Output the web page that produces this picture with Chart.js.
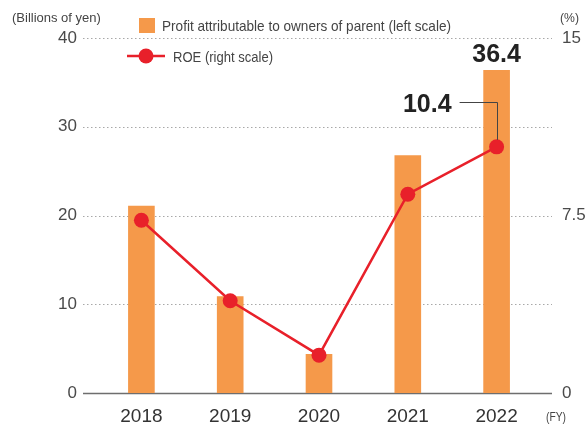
<!DOCTYPE html>
<html>
<head>
<meta charset="utf-8">
<script src="https://cdn.jsdelivr.net/npm/chart.js@4"></script>
<style>
    body { margin: 0; background: #ffffff; }
    #caixa { width: 587px; height: 425px; }
</style>
</head>
<body>
<div id="caixa"><canvas id="chart_lucro" width="587" height="425"></canvas></div>
<script>
// DADOS
var anos = ['2018', '2019', '2020', '2021', '2022'];
var lucro = [21.1, 10.9, 4.4, 26.8, 36.4];
var roe = [7.3, 3.9, 1.6, 8.4, 10.4];
var ticks_esquerda = [0, 10, 20, 30, 40];
var ticks_direita = [0, 7.5, 15];

var cor_barra = '#F5994A';
var cor_roe = '#E8202A';
var fonte = "'Liberation Sans', Arial, sans-serif";

// grade pontilhada e linha de base, um pouco além da área do gráfico
var gradePlugin = {
    id: 'grade',
    beforeDatasetsDraw: function (chart) {
        var ctx = chart.ctx;
        var y = chart.scales.y;
        var esq = chart.chartArea.left - 14;
        var dir = chart.chartArea.right + 11;
        ctx.save();
        ticks_esquerda.forEach(function (v) {
            var py = Math.round(y.getPixelForValue(v)) + 0.5;
            ctx.beginPath();
            if (v == 0) {
                ctx.setLineDash([]);
                ctx.strokeStyle = '#6e6e6e';
                ctx.lineWidth = 1.5;
            } else {
                ctx.setLineDash([1.5, 2.5]);
                ctx.strokeStyle = '#a8a8a8';
                ctx.lineWidth = 1;
            }
            ctx.moveTo(esq, py);
            ctx.lineTo(dir, py);
            ctx.stroke();
        });
        ctx.restore();
    }
};

// legenda, unidades e rótulos de valor
var textosPlugin = {
    id: 'textos',
    afterDraw: function (chart) {
        var ctx = chart.ctx;
        ctx.save();

        // legenda
        ctx.fillStyle = cor_barra;
        ctx.fillRect(139, 18, 16, 15);
        ctx.fillStyle = '#444444';
        ctx.font = '15px ' + fonte;
        ctx.textAlign = 'left';
        ctx.textBaseline = 'middle';
        ctx.fillText('Profit attributable to owners of parent (left scale)', 162, 27, 289);

        ctx.strokeStyle = cor_roe;
        ctx.lineWidth = 2.5;
        ctx.beginPath();
        ctx.moveTo(127, 56);
        ctx.lineTo(165, 56);
        ctx.stroke();
        ctx.fillStyle = cor_roe;
        ctx.beginPath();
        ctx.arc(146, 56, 7.5, 0, Math.PI * 2);
        ctx.fill();
        ctx.fillStyle = '#444444';
        ctx.fillText('ROE (right scale)', 173, 58, 100);

        // unidades
        ctx.font = '13px ' + fonte;
        ctx.fillText('(Billions of yen)', 12, 18, 100);
        ctx.fillText('(%)', 560, 18, 19);
        ctx.font = '12px ' + fonte;
        ctx.fillText('(FY)', 546, 418, 20);

        // rótulos de valor do último ano
        var ultimo = anos.length - 1;
        var barra = chart.getDatasetMeta(0).data[ultimo];
        var ponto = chart.getDatasetMeta(1).data[ultimo];
        ctx.fillStyle = '#222222';
        ctx.font = 'bold 25px ' + fonte;
        ctx.textAlign = 'center';
        ctx.textBaseline = 'alphabetic';
        ctx.fillText(lucro[ultimo].toFixed(1), barra.x, barra.y - 8);

        ctx.textAlign = 'right';
        ctx.fillText(roe[ultimo].toFixed(1), ponto.x - 45, ponto.y - 35);

        ctx.strokeStyle = '#444444';
        ctx.lineWidth = 1;
        ctx.beginPath();
        ctx.moveTo(ponto.x - 37, Math.round(ponto.y - 45) + 0.5);
        ctx.lineTo(Math.round(ponto.x) + 0.5, Math.round(ponto.y - 45) + 0.5);
        ctx.lineTo(Math.round(ponto.x) + 0.5, ponto.y - 7);
        ctx.stroke();

        ctx.restore();
    }
};

function criarGrafico() {
    const ctxLucro = document.getElementById('chart_lucro');

    new Chart(ctxLucro, {
        type: 'bar',
        data: {
            labels: anos,
            datasets: [{
                type: 'bar',
                label: 'Profit attributable to owners of parent (left scale)',
                data: lucro,
                yAxisID: 'y',
                backgroundColor: cor_barra,
                borderWidth: 0,
                barPercentage: 0.3,
                categoryPercentage: 1,
                order: 2
            }, {
                type: 'line',
                label: 'ROE (right scale)',
                data: roe,
                yAxisID: 'y1',
                borderColor: cor_roe,
                backgroundColor: cor_roe,
                borderWidth: 2.5,
                pointRadius: 7.5,
                pointBorderWidth: 0,
                pointBackgroundColor: cor_roe,
                tension: 0,
                order: 1
            }]
        },
        options: {
            responsive: false,
            animation: false,
            layout: {
                padding: { top: 38, bottom: 0, left: 0, right: 0 }
            },
            scales: {
                x: {
                    offset: true,
                    grid: { display: false, drawTicks: false },
                    border: { display: false },
                    ticks: {
                        color: '#333333',
                        padding: 12,
                        font: { family: fonte, size: 19 }
                    },
                    afterFit: function (s) { s.height = 32; }
                },
                y: {
                    position: 'left',
                    min: 0,
                    max: 40,
                    grid: { display: false, drawTicks: false },
                    border: { display: false },
                    afterBuildTicks: function (s) {
                        s.ticks = ticks_esquerda.map(function (v) { return { value: v }; });
                    },
                    ticks: {
                        color: '#4a4a4a',
                        padding: 20,
                        font: { family: fonte, size: 17 }
                    },
                    afterFit: function (s) { s.width = 97; }
                },
                y1: {
                    position: 'right',
                    min: 0,
                    max: 15,
                    grid: { display: false, drawTicks: false },
                    border: { display: false },
                    afterBuildTicks: function (s) {
                        s.ticks = ticks_direita.map(function (v) { return { value: v }; });
                    },
                    ticks: {
                        color: '#4a4a4a',
                        padding: 21,
                        font: { family: fonte, size: 17 }
                    },
                    afterFit: function (s) { s.width = 46; }
                }
            },
            plugins: {
                legend: { display: false },
                tooltip: { enabled: false }
            }
        },
        plugins: [gradePlugin, textosPlugin]
    });
}

criarGrafico();
</script>
</body>
</html>
